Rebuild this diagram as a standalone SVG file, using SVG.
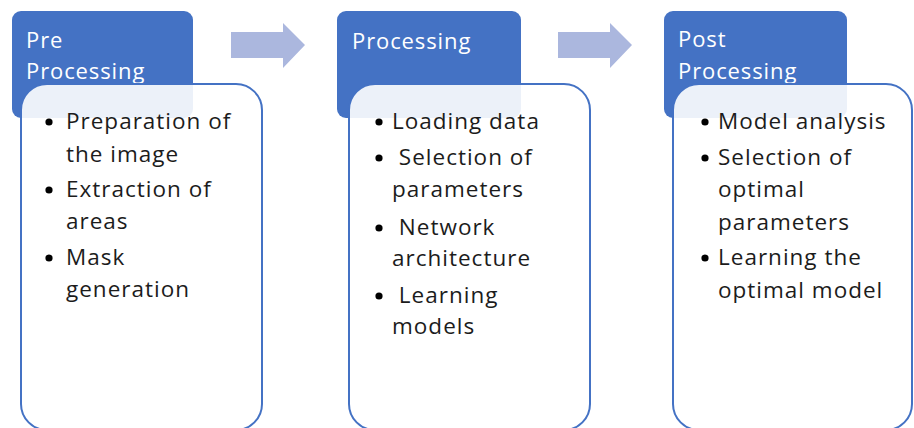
<svg xmlns="http://www.w3.org/2000/svg" width="914" height="428" viewBox="0 0 914 428">
<style>
.hdr{fill:#4472c4;}
.card{fill:#ffffff;fill-opacity:0.9;stroke:#4472c4;stroke-width:2;}
.arrow{fill:#abb7de;}
.title{font-family:"Open Sans",sans-serif;font-size:22px;fill:#ffffff;letter-spacing:0.9px;}
.item{font-family:"Open Sans",sans-serif;font-size:22.5px;fill:#1c1c1c;letter-spacing:1px;}
.dot{fill:#000000;}
</style>
<rect width="914" height="428" fill="#ffffff"/>
<g id="connectors">
<polygon class="arrow" points="231,32 283,32 283,23 305,45 283,68 283,58 231,58"/>
<polygon class="arrow" points="558,32 610,32 610,23 632,45 610,68 610,58 558,58"/>
</g>
<g id="pre-processing">
<rect class="hdr" x="12" y="11" width="181" height="107" rx="9"/>
<text class="title" x="26" y="48">Pre</text>
<text class="title" x="26" y="79">Processing</text>
<rect class="card" x="21" y="84" width="241" height="346" rx="26"/>
<circle class="dot" cx="49" cy="122" r="3.6"/>
<text class="item" x="66" y="129">Preparation of</text>
<text class="item" x="66" y="162">the image</text>
<circle class="dot" cx="49" cy="190" r="3.6"/>
<text class="item" x="66" y="197">Extraction of</text>
<text class="item" x="66" y="229">areas</text>
<circle class="dot" cx="49" cy="258" r="3.6"/>
<text class="item" x="66" y="265">Mask</text>
<text class="item" x="66" y="297">generation</text>
</g>
<g id="processing">
<rect class="hdr" x="337" y="11" width="184" height="107" rx="9"/>
<text class="title" x="352" y="49">Processing</text>
<rect class="card" x="349" y="84" width="241" height="346" rx="26"/>
<circle class="dot" cx="379" cy="122" r="3.6"/>
<text class="item" x="392" y="129">Loading data</text>
<circle class="dot" cx="379" cy="158" r="3.6"/>
<text class="item" x="392" y="165" xml:space="preserve"> Selection of</text>
<text class="item" x="392" y="197">parameters</text>
<circle class="dot" cx="379" cy="228" r="3.6"/>
<text class="item" x="392" y="235" xml:space="preserve"> Network</text>
<text class="item" x="392" y="266">architecture</text>
<circle class="dot" cx="379" cy="296" r="3.6"/>
<text class="item" x="392" y="303" xml:space="preserve"> Learning</text>
<text class="item" x="392" y="334">models</text>
</g>
<g id="post-processing">
<rect class="hdr" x="664" y="11" width="183" height="107" rx="9"/>
<text class="title" x="678" y="47">Post</text>
<text class="title" x="678" y="79">Processing</text>
<rect class="card" x="673" y="84" width="239" height="346" rx="26"/>
<circle class="dot" cx="705" cy="122" r="3.6"/>
<text class="item" x="718" y="129">Model analysis</text>
<circle class="dot" cx="705" cy="158" r="3.6"/>
<text class="item" x="718" y="165">Selection of</text>
<text class="item" x="718" y="197">optimal</text>
<text class="item" x="718" y="230">parameters</text>
<circle class="dot" cx="705" cy="258" r="3.6"/>
<text class="item" x="718" y="265">Learning the</text>
<text class="item" x="718" y="298">optimal model</text>
</g>
</svg>
